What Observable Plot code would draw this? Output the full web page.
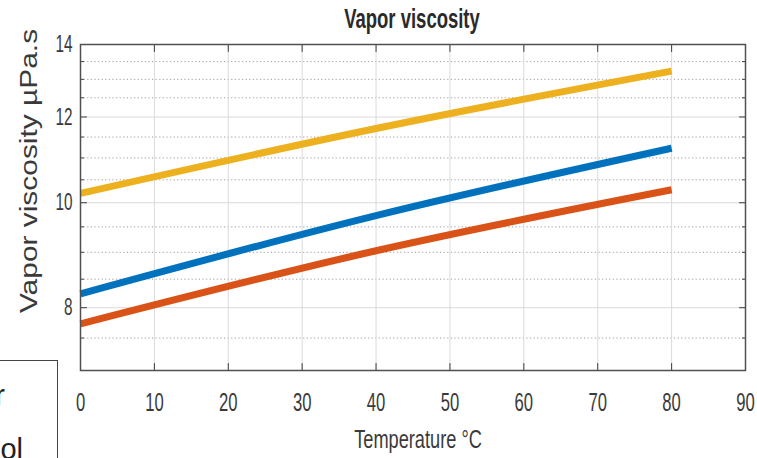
<!DOCTYPE html>
<html><head><meta charset="utf-8">
<script src="https://cdn.jsdelivr.net/npm/d3@7"></script>
<script src="https://cdn.jsdelivr.net/npm/@observablehq/plot@0.6"></script>
<style>
html,body{margin:0;padding:0;background:#fff;}
#wrap{position:relative;width:757px;height:458px;overflow:hidden;font-family:"Liberation Sans",Arial,Helvetica,sans-serif;color:#333;background:#fff;}
#wrap svg{position:absolute;left:0;top:0;}
.lbl{position:absolute;white-space:nowrap;line-height:1;transform-origin:0 0;}
</style></head><body><div id="wrap"></div>
<script>
// ---- data ----
const temperature = [0, 40, 80];               // °C
const water    = [8.24, 9.73, 11.23];          // blue
const ethanol  = [7.73, 9.03, 10.28];          // orange
const methanol = [10.20, 11.71, 13.23];        // yellow
const seriesNames  = ["Water", "Ethanol", "Methanol"];
const seriesColors = ["#0072BD", "#D95319", "#EDB120"];
const xTicks = [0, 10, 20, 30, 40, 50, 60, 70, 80, 90];
const yTicks = [8, 10, 12, 14];
const yMinor = [7.5, 8.5, 9, 9.5, 10.5, 11, 11.5, 12.5, 13, 13.5];
const titleText = "Vapor viscosity";
const xLabel = "Temperature °C";
const yLabel = "Vapor viscosity µPa.s";
const legendLabels = ["Water", "Ethanol"];

// ---- build table ----
const seriesValues = [water, ethanol, methanol];
const rows = [];
seriesNames.forEach((name, s) => temperature.forEach((t, i) => rows.push({series: name, t, v: seriesValues[s][i]})));

const tickShape = {draw(context, l) { context.moveTo(0, 0); context.lineTo(0, -l); }};
const tickStyle = {stroke: "#3c3c3c", strokeWidth: 1, anchor: "start", shape: tickShape};

const chart = Plot.plot({
  width: 757, height: 458,
  marginLeft: 80, marginRight: 12, marginTop: 44, marginBottom: 88,
  style: {fontFamily: "'Liberation Sans', Arial, sans-serif", color: "#333", background: "transparent"},
  x: {domain: [0, 90], label: null, axis: null},
  y: {type: "log", domain: [7, 14], label: null, axis: null},
  color: {domain: seriesNames, range: seriesColors},
  marks: [
    Plot.ruleY(yMinor, {stroke: "#9c9c9c", strokeWidth: 1, strokeDasharray: "1.2,2.4"}),
    Plot.ruleY(yTicks, {stroke: "#dadada", strokeWidth: 1}),
    Plot.ruleX(xTicks, {stroke: "#dadada", strokeWidth: 1}),
    Plot.line(rows, {x: "t", y: "v", z: "series", stroke: "series", strokeWidth: 7, strokeLinecap: "butt", curve: "natural"}),
    // inward tick marks on all four sides
    Plot.vectorY(yTicks, {frameAnchor: "left", rotate: 90, length: 6, ...tickStyle}),
    Plot.vectorY(yTicks, {frameAnchor: "right", rotate: -90, length: 6, ...tickStyle}),
    Plot.vectorY(yMinor, {frameAnchor: "left", rotate: 90, length: 3, ...tickStyle}),
    Plot.vectorY(yMinor, {frameAnchor: "right", rotate: -90, length: 3, ...tickStyle}),
    Plot.vectorX(xTicks, {frameAnchor: "bottom", rotate: 0, length: 7, ...tickStyle}),
    Plot.vectorX(xTicks, {frameAnchor: "top", rotate: 180, length: 7, ...tickStyle}),
    Plot.frame({stroke: "#505050", strokeWidth: 1.5}),
    // tick labels
    Plot.text(xTicks, {x: d => d, frameAnchor: "bottom", dy: 22, lineAnchor: "top", textAnchor: "middle", text: d => String(d), fontSize: 26, fill: "#3a3a3a"}),
    Plot.text(yTicks, {y: d => d, frameAnchor: "left", dx: -8, lineAnchor: "middle", textAnchor: "end", text: d => String(d), fontSize: 24, fill: "#3a3a3a"})
  ]
});

// condense tick labels horizontally (matching the narrow look of the reference)
chart.querySelectorAll("text").forEach(t => {
  const tr = t.getAttribute("transform");
  if (tr) t.setAttribute("transform", tr + " scale(0.64,1)");
  else {
    const x = +t.getAttribute("x") || 0, y = +t.getAttribute("y") || 0;
    t.removeAttribute("x"); t.removeAttribute("y");
    t.setAttribute("transform", `translate(${x},${y}) scale(0.64,1)`);
  }
});

const wrap = document.getElementById("wrap");
wrap.appendChild(chart);

function addLabel(text, css, transform) {
  const d = document.createElement("div");
  d.className = "lbl";
  d.textContent = text;
  Object.assign(d.style, css);
  d.style.transform = transform;
  wrap.appendChild(d);
  return d;
}
// title
addLabel(titleText, {left: "411.5px", top: "4.6px", fontSize: "28px", fontWeight: "bold", color: "#2a2a2a"}, "scaleX(0.66) translateX(-50%)");
// x label
addLabel(xLabel, {left: "417.5px", top: "426px", fontSize: "26px", color: "#3a3a3a"}, "scaleX(0.70) translateX(-50%)");
// y label
addLabel(yLabel, {left: "29px", top: "171px", fontSize: "23px", color: "#3a3a3a"}, "rotate(-90deg) scaleX(1.3) translate(-50%,-50%)");

// legend box (mostly outside the visible area)
const box = document.createElement("div");
Object.assign(box.style, {position: "absolute", left: "-140px", top: "360px", width: "196px", height: "200px", border: "1px solid #444", background: "#fff"});
wrap.appendChild(box);
addLabel(legendLabels[0], {left: "5px", top: "381px", fontSize: "29px", color: "#222"}, "translateX(-100%)");
addLabel(legendLabels[1], {left: "23px", top: "435px", fontSize: "29px", color: "#222"}, "translateX(-100%)");
</script></body></html>
